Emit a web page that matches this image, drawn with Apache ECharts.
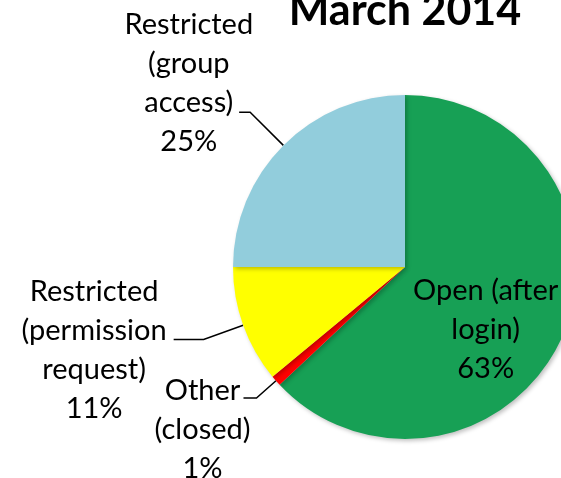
<!DOCTYPE html>
<html>
<head>
<meta charset="utf-8">
<script src="https://cdn.jsdelivr.net/npm/echarts@6/dist/echarts.min.js"></script>
<style>
  html, body { margin: 0; padding: 0; background: #fff; }
  #chart { width: 561px; height: 478px; }
</style>
</head>
<body>
<div id="chart"></div>
<script>
var titleText = 'March 2014';
var names = ['Open (after login)', 'Other (closed)', 'Restricted (permission request)', 'Restricted (group access)'];
var labelLines = [
    ['Open (after', 'login)'],
    ['Other', '(closed)'],
    ['Restricted', '(permission', 'request)'],
    ['Restricted', '(group', 'access)']
];
var values = [63, 1, 11, 25];
var colors = ['#17a055', '#ff0000', '#ffff00', '#92cddc'];

// per slice label placement (styles only, not data)
var labelStyles = [
    { position: 'inside', offset: [-1, 27] },
    { position: 'outside', distanceToLabelLine: -7, padding: [63, 0, 0, 0], line: [26, 13] },
    { position: 'outside', distanceToLabelLine: 7, padding: [22, 0, 0, 0], line: [42, 30] },
    { position: 'outside', distanceToLabelLine: -14, padding: [0, 0, 58, 0], line: [47, 11] }
];

var font = 'Lato, "Open Sans", sans-serif';

var chart = {
    init: function() {
        var myChart = echarts.init(document.getElementById('chart'), null, { renderer: 'canvas' });
        myChart.setOption(chart.option());
    },
    data: function() {
        return values.map(function(v, i) {
            var st = labelStyles[i];
            var item = {
                name: names[i],
                value: v,
                itemStyle: { color: colors[i] },
                label: {
                    show: true,
                    position: st.position,
                    formatter: function() {
                        var lines = labelLines[i].concat([v + '%']);
                        return lines.map(function(l) { return '{c|' + l + '}'; }).join('\n');
                    }
                }
            };
            if (st.offset) item.label.offset = st.offset;
            if (st.padding) item.label.padding = st.padding;
            if (st.distanceToLabelLine !== undefined) item.label.distanceToLabelLine = st.distanceToLabelLine;
            if (st.line) {
                item.labelLine = { show: true, length: st.line[0], length2: st.line[1] };
            } else {
                item.labelLine = { show: false };
            }
            return item;
        });
    },
    option: function() {
        return {
            animation: false,
            title: {
                text: titleText,
                left: 400,
                textAlign: 'center',
                top: -15,
                textStyle: {
                    fontFamily: font,
                    fontWeight: 'bold',
                    fontSize: 43,
                    lineHeight: 43,
                    color: '#000'
                }
            },
            series: [{
                type: 'pie',
                center: [405, 267],
                radius: 172,
                startAngle: 90,
                clockwise: true,
                avoidLabelOverlap: false,
                minShowLabelAngle: 0,
                labelLayout: { hideOverlap: false },
                data: chart.data(),
                itemStyle: {
                    borderWidth: 0,
                    shadowBlur: 4,
                    shadowOffsetX: 2,
                    shadowOffsetY: 2,
                    shadowColor: 'rgba(0,0,0,0.25)'
                },
                label: {
                    color: '#000',
                    fontFamily: font,
                    fontSize: 29,
                    lineHeight: 39,
                    rich: {
                        c: {
                            align: 'center',
                            color: '#000',
                            fontFamily: font,
                            fontSize: 29,
                            lineHeight: 39
                        }
                    }
                },
                labelLine: {
                    smooth: false,
                    lineStyle: { color: '#000', width: 1.5 }
                },
                emphasis: { disabled: true }
            }]
        };
    }
};

chart.init();
</script>
</body>
</html>
